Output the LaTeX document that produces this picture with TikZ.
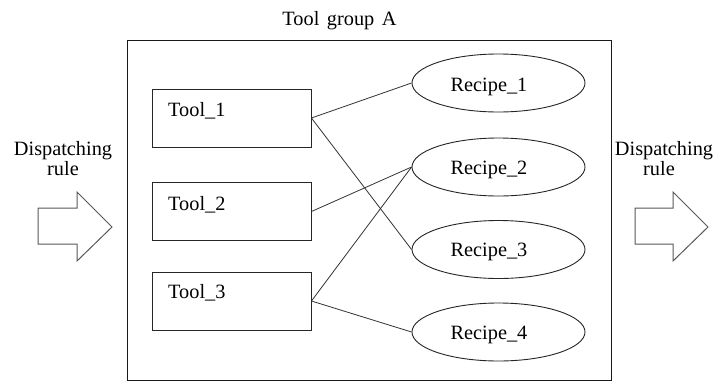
\documentclass[tikz,border=0pt]{standalone}
\usepackage{fontspec}
\setmainfont{Liberation Serif}
\usetikzlibrary{shapes.geometric}
\begin{document}
\begin{tikzpicture}[x=1pt,y=-1pt,
  every node/.style={font=\fontsize{20.3}{18}\selectfont, inner sep=0pt},
  toolbox/.style={draw=black!85, line width=0.9pt, rectangle, minimum width=159pt, minimum height=58pt},
  recipe/.style={draw=black!85, line width=0.9pt, ellipse, minimum width=173pt, minimum height=58pt},
  txt/.style={anchor=base, text=black},
  link/.style={draw=black!80, line width=0.8pt},
  bigarrow/.style={draw=black!65, line width=1pt, line join=miter, fill=white}]
  % canvas
  \useasboundingbox (0,0) rectangle (717,381);
  \fill[white] (0,0) rectangle (717,381);

  % tool group frame and its title
  \node (grp) [draw=black!90, line width=1pt, rectangle, minimum width=484pt, minimum height=340pt] at (369,210) {};
  \node (grptitle) [txt] at (339.5,25) {Tool\hspace{2.5pt} group\hspace{2.5pt} A};

  % tools
  \node (t1) [toolbox] at (231.5,118) {};
  \node (t2) [toolbox] at (231.5,211.5) {};
  \node (t3) [toolbox] at (231.5,301) {};
  \node (t1l) [txt, anchor=base west] at (168,116) {Tool\_1};
  \node (t2l) [txt, anchor=base west] at (168,210) {Tool\_2};
  \node (t3l) [txt, anchor=base west] at (168,298) {Tool\_3};

  % recipes
  \node (r1) [recipe] at (498.5,83) {};
  \node (r2) [recipe] at (498.5,167) {};
  \node (r3) [recipe] at (498.5,249.5) {};
  \node (r4) [recipe] at (498.5,332) {};
  \node (r1l) [txt] at (489,91) {Recipe\_1};
  \node (r2l) [txt] at (489,174) {Recipe\_2};
  \node (r3l) [txt] at (489,256.5) {Recipe\_3};
  \node (r4l) [txt] at (489,339) {Recipe\_4};

  % tool-to-recipe links
  \draw[link] (t1.east) -- (r1.west);
  \draw[link] (t1.east) -- (r3.west);
  \draw[link] (t2.east) -- (r2.west);
  \draw[link] (t3.east) -- (r2.west);
  \draw[link] (t3.east) -- (r4.west);

  % incoming dispatching rule
  \node (inl1) [txt] at (63,155) {Dispatching};
  \node (inl2) [txt] at (63,175) {rule};
  \draw[bigarrow] (38,208) -- (77,208) -- (77,192) -- (112,227) -- (77,261) -- (77,244) -- (38,244) -- cycle;

  % outgoing dispatching rule
  \node (outl1) [txt] at (664,155) {Dispatching};
  \node (outl2) [txt] at (659,175) {rule};
  \draw[bigarrow] (635,208) -- (673,208) -- (673,192) -- (708,227) -- (673,261) -- (673,244) -- (635,244) -- cycle;
\end{tikzpicture}
\end{document}
